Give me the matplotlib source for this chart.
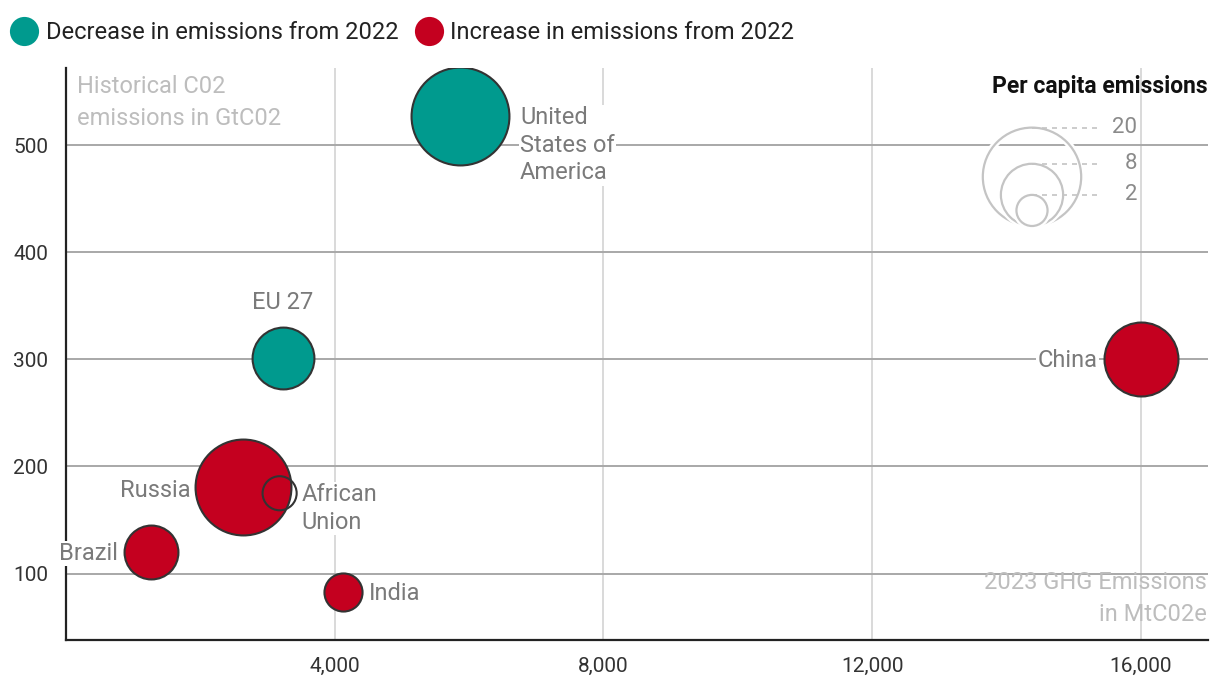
import numpy as np
import matplotlib
matplotlib.use("Agg")
import matplotlib.pyplot as plt
from matplotlib.patches import Circle
from matplotlib.lines import Line2D
import matplotlib.patheffects as pe

plt.rcParams['font.family'] = ['Roboto', 'DejaVu Sans']

# data
countries = ['United\nStates of\nAmerica', 'EU 27', 'China', 'Russia', 'African\nUnion', 'Brazil', 'India']
ghg_2023 = [5870, 3230, 16000, 2640, 3180, 1270, 4120]      # MtC02e
historical = [527, 301, 300, 181, 175, 120, 83]             # GtC02
per_capita = [19.8, 7.9, 11.3, 19.0, 2.4, 6.0, 3.0]
change = ['dec', 'dec', 'inc', 'inc', 'none', 'inc', 'inc']
legend_sizes = [20, 8, 2]

TEAL = '#009a8e'
RED = '#c4001f'
fill = {'dec': TEAL, 'inc': RED, 'none': 'none'}
LBL = '#7a7a7a'
FS = 17

fig = plt.figure(figsize=(12.2, 6.94), dpi=100)
W, H = 1220, 694
ax = fig.add_axes([66 / W, (H - 640) / H, (1208 - 66) / W, (640 - 68) / H])

ax.set_xlim(0, 17000)
ax.set_ylim(38, 572)
ax.set_xticks([4000, 8000, 12000, 16000])
ax.set_xticklabels(['4,000', '8,000', '12,000', '16,000'])
ax.set_yticks([100, 200, 300, 400, 500])
ax.tick_params(length=0, labelsize=15, labelcolor='#333333', pad=12)
ax.tick_params(axis='y', pad=13)
for s in ['top', 'right']:
    ax.spines[s].set_visible(False)
for s in ['left', 'bottom']:
    ax.spines[s].set_color('#222222')
    ax.spines[s].set_linewidth(1.6)

ax.grid(axis='y', color='#a8a8a8', lw=1.4, zorder=0)
ax.grid(axis='x', color='#d9d9d9', lw=1.4, zorder=0)
ax.set_axisbelow(True)

# bubbles: radius in px ~ 11*sqrt(pc)  ->  s = (2 * r * 0.72)^2
sizes = [(2 * 11 * np.sqrt(p) * 0.72) ** 2 for p in per_capita]
for i in range(len(countries)):
    ax.scatter(ghg_2023[i], historical[i], s=sizes[i], c=fill[change[i]] if change[i] != 'none' else 'none',
               edgecolors='#333333', linewidths=1.5, zorder=3 + (1 if change[i] == 'none' else 0))

bbox = dict(facecolor='white', edgecolor='none', pad=1)
kw = dict(fontsize=FS, color=LBL, zorder=5, bbox=bbox, clip_on=False, linespacing=1.25)
# label placements (offset in points from bubble centre)
offs = [(43, -21, 'left', 'center'), (0, 40, 'center', 'center'), (-31, -1, 'right', 'center'),
        (-38, -3, 'right', 'center'), (16, -11, 'left', 'center'), (-24, -1, 'right', 'center'),
        (19, -1, 'left', 'center')]
for i, name in enumerate(countries):
    dx, dy, ha, va = offs[i]
    ax.annotate(name, (ghg_2023[i], historical[i]), xytext=(dx, dy), textcoords='offset points',
                ha=ha, va=va, **kw)

# axis descriptions
ax.text(0.01, 0.988, 'Historical C02\nemissions in GtC02', transform=ax.transAxes, ha='left', va='top',
        fontsize=FS, color='#bdbdbd', linespacing=1.5)
ax.text(0.999, 0.025, '2023 GHG Emissions\nin MtC02e', transform=ax.transAxes, ha='right', va='bottom',
        fontsize=FS, color='#bdbdbd', linespacing=1.5)

# size legend (pixel-like coordinates)
lax = fig.add_axes([960 / W, (H - 240) / H, 260 / W, 180 / H])
lax.set_xlim(960, 1220)
lax.set_ylim(240, 60)
lax.axis('off')
cx, base = 1032, 226
for v in legend_sizes:
    r = 11 * np.sqrt(v)
    lax.add_patch(Circle((cx, base - r), r, facecolor='none', edgecolor='#c4c4c4', lw=1.6,
                         path_effects=[pe.Stroke(linewidth=5, foreground='white'), pe.Normal()]))
    lax.plot([cx, 1100], [base - 2 * r, base - 2 * r], ls=(0, (3, 3)), color='#c4c4c4', lw=1.2)
    lax.text(1137, base - 2 * r, str(v), ha='right', va='center', fontsize=16, color='#8a8a8a')
lax.text(1208, 86, 'Per capita emissions', ha='right', va='center', fontsize=16.5, fontweight='bold',
         color='#111111')

# colour legend
handles = [Line2D([], [], marker='o', ls='', markersize=21, markerfacecolor=TEAL, markeredgecolor='none'),
           Line2D([], [], marker='o', ls='', markersize=21, markerfacecolor=RED, markeredgecolor='none')]
fig.legend(handles, ['Decrease in emissions from 2022', 'Increase in emissions from 2022'],
           loc='upper left', bbox_to_anchor=(-0.009, 1.0), ncol=2, frameon=False, fontsize=17,
           handletextpad=0.3, columnspacing=0.7, handlelength=1.2, borderaxespad=0.5,
           labelcolor='#222222')

fig.savefig('out.png', dpi=100)
